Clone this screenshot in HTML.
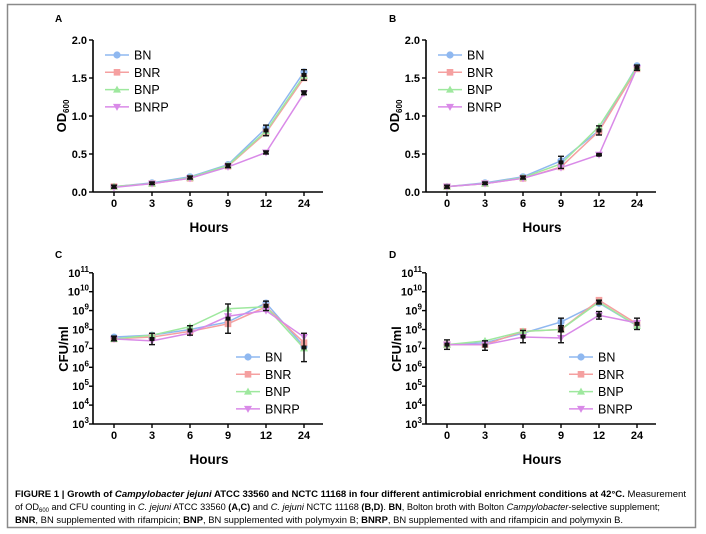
<!DOCTYPE html>
<html><head><meta charset="utf-8"><style>
html,body{margin:0;padding:0;background:#fff;}
svg{display:block;font-family:"Liberation Sans",Arial,sans-serif;}
</style></head><body>
<svg id="s" width="706" height="534" viewBox="0 0 706 534" xmlns="http://www.w3.org/2000/svg">
<rect x="7.5" y="4.5" width="688" height="523" fill="none" stroke="#8a8a8a" stroke-width="1.5"/>
<text x="55" y="22" font-size="10" font-weight="bold">A</text>
<text x="389" y="22" font-size="10" font-weight="bold">B</text>
<text x="55" y="258" font-size="10" font-weight="bold">C</text>
<text x="389" y="258" font-size="10" font-weight="bold">D</text>
<text x="15" y="497" font-size="9" textLength="671" lengthAdjust="spacingAndGlyphs"><tspan font-weight="bold">FIGURE 1 | Growth of <tspan font-style="italic">Campylobacter jejuni</tspan> ATCC 33560 and NCTC 11168 in four different antimicrobial enrichment conditions at 42°C.</tspan> Measurement</text>
<text x="15" y="510" font-size="9.3" textLength="645" lengthAdjust="spacingAndGlyphs">of OD<tspan font-size="6" dy="2">600</tspan><tspan dy="-2"> and CFU counting in </tspan><tspan font-style="italic">C. jejuni</tspan> ATCC 33560 <tspan font-weight="bold">(A,C)</tspan> and <tspan font-style="italic">C. jejuni</tspan> NCTC 11168 <tspan font-weight="bold">(B,D)</tspan>. <tspan font-weight="bold">BN</tspan>, Bolton broth with Bolton <tspan font-style="italic">Campylobacter</tspan>-selective supplement;</text>
<text x="15" y="523" font-size="9.3" textLength="608" lengthAdjust="spacingAndGlyphs"><tspan font-weight="bold">BNR</tspan>, BN supplemented with rifampicin; <tspan font-weight="bold">BNP</tspan>, BN supplemented with polymyxin B; <tspan font-weight="bold">BNRP</tspan>, BN supplemented with and rifampicin and polymyxin B.</text>
</svg>
<script>
var S=document.getElementById('s'),NS='http://www.w3.org/2000/svg';
function el(t,a,txt){var e=document.createElementNS(NS,t);for(var k in a)e.setAttribute(k,a[k]);if(txt!=null)e.textContent=txt;S.appendChild(e);return e;}
var cols=['#8fb8f0','#f5a0a0','#9ee89e','#d98ae8'],names=['BN','BNR','BNP','BNRP'];
var XS=[114,152,190,228,266,304],XL=['0','3','6','9','12','24'];
function marker(i,x,y){var c=cols[i];
 if(i==0)el('circle',{cx:x,cy:y,r:3.6,fill:c});
 else if(i==1)el('rect',{x:x-3.3,y:y-3.3,width:6.6,height:6.6,fill:c});
 else if(i==2)el('polygon',{points:(x)+','+(y-4)+' '+(x-4)+','+(y+3)+' '+(x+4)+','+(y+3),fill:c});
 else el('polygon',{points:(x)+','+(y+4)+' '+(x-4)+','+(y-3)+' '+(x+4)+','+(y-3),fill:c});}
function panel(ox,log,data,errs,leg){
 var yb=log?424:192,yt=log?273:40;
 var fy=log?function(v){return 424-(v-3)*18.9;}:function(v){return 192-v*76;};
 el('line',{x1:93+ox,y1:yt,x2:93+ox,y2:yb,stroke:'#000','stroke-width':1.6});
 el('line',{x1:93+ox,y1:yb,x2:323+ox,y2:yb,stroke:'#000','stroke-width':1.6});
 XS.forEach(function(x,j){el('line',{x1:x+ox,y1:yb,x2:x+ox,y2:yb+4,stroke:'#000','stroke-width':1.4});
  el('text',{x:x+ox,y:yb+15,'font-size':11,'font-weight':'bold','text-anchor':'middle'},XL[j]);});
 if(log){for(var d=3;d<=11;d++){var y=fy(d);el('line',{x1:89+ox,y1:y,x2:93+ox,y2:y,stroke:'#000','stroke-width':1.4});
   var t=el('text',{x:89+ox,y:y+4,'font-size':11,'font-weight':'bold','text-anchor':'end'});
   t.innerHTML='10<tspan font-size="8" dy="-5">'+d+'</tspan>';}
  el('text',{transform:'translate('+(68+ox)+',349) rotate(-90)','font-size':13,'font-weight':'bold','text-anchor':'middle'},'CFU/ml');
 } else {[0,0.5,1,1.5,2].forEach(function(v){var y=fy(v);el('line',{x1:89+ox,y1:y,x2:93+ox,y2:y,stroke:'#000','stroke-width':1.4});
   el('text',{x:87+ox,y:y+4,'font-size':11,'font-weight':'bold','text-anchor':'end'},v.toFixed(1));});
  var t=el('text',{transform:'translate('+(66+ox)+',116) rotate(-90)','font-size':13,'font-weight':'bold','text-anchor':'middle'});
  t.innerHTML='OD<tspan font-size="8" dy="3">600</tspan>';}
 el('text',{x:209+ox,y:yb+40,'font-size':13.5,'font-weight':'bold','text-anchor':'middle'},'Hours');
 data.forEach(function(s,i){var p=s.map(function(v,j){return (XS[j]+ox)+','+fy(v);}).join(' ');
  el('polyline',{points:p,fill:'none',stroke:cols[i],'stroke-width':1.5});});
 data.forEach(function(s,i){s.forEach(function(v,j){marker(i,XS[j]+ox,fy(v));});});
 errs.forEach(function(e){var x=XS[e[0]]+ox,y1=fy(e[1]),y2=fy(e[2]);
  el('line',{x1:x,y1:y1,x2:x,y2:y2,stroke:'#111','stroke-width':1.4});
  el('line',{x1:x-3,y1:y1,x2:x+3,y2:y1,stroke:'#111','stroke-width':1.4});
  el('line',{x1:x-3,y1:y2,x2:x+3,y2:y2,stroke:'#111','stroke-width':1.4});
  el('rect',{x:x-2.5,y:(y1+y2)/2-2,width:5,height:4,fill:'#111'});});
 names.forEach(function(n,i){var y=leg[1]+i*17.3,x=leg[0]+ox;
  el('line',{x1:x-12,y1:y,x2:x+12,y2:y,stroke:cols[i],'stroke-width':1.5});marker(i,x,y);
  el('text',{x:x+17,y:y+4.5,'font-size':12.5},n);});
}
panel(0,false,[[0.07,0.12,0.2,0.36,0.84,1.58],[0.07,0.11,0.18,0.34,0.78,1.5],[0.07,0.11,0.19,0.35,0.8,1.53],[0.06,0.11,0.18,0.33,0.52,1.3]],
 [[0,0.05,0.09],[1,0.1,0.13],[2,0.17,0.21],[3,0.32,0.37],[4,0.74,0.88],[4,0.5,0.54],[5,1.47,1.61],[5,1.28,1.33]],[117,55]);
panel(333,false,[[0.07,0.12,0.2,0.41,0.81,1.66],[0.07,0.11,0.18,0.33,0.8,1.62],[0.07,0.11,0.19,0.37,0.86,1.64],[0.07,0.11,0.18,0.32,0.49,1.63]],
 [[0,0.05,0.09],[1,0.1,0.13],[2,0.17,0.21],[3,0.31,0.47],[4,0.75,0.87],[4,0.48,0.5],[5,1.6,1.67]],[117,55]);
panel(0,true,[[7.6,7.7,8.0,8.4,9.4,7.1],[7.5,7.6,7.9,8.3,9.2,7.3],[7.5,7.7,8.15,9.1,9.2,7.0],[7.5,7.4,7.8,8.7,9.0,7.6]],
 [[0,7.4,7.65],[1,7.2,7.8],[2,7.7,8.2],[3,7.8,9.35],[4,9.0,9.5],[5,6.3,7.8]],[248,357]);
panel(333,true,[[7.2,7.3,7.8,8.4,9.4,8.2],[7.2,7.2,7.9,8.0,9.55,8.3],[7.2,7.4,7.9,8.0,9.45,8.2],[7.2,7.2,7.6,7.55,8.75,8.35]],
 [[0,6.95,7.45],[1,6.9,7.4],[2,7.3,7.95],[3,7.3,8.6],[3,7.9,8.2],[4,9.35,9.55],[4,8.55,8.95],[5,8.0,8.6]],[248,357]);
</script>
</body></html>
